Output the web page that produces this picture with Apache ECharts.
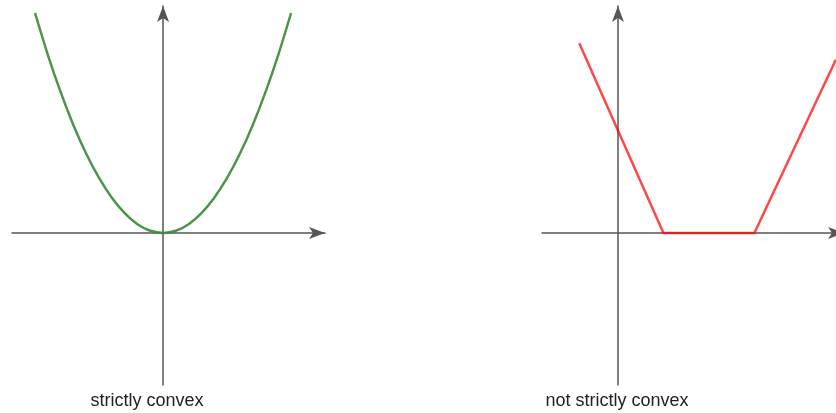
<!DOCTYPE html>
<html>
<head>
<meta charset="utf-8">
<script src="https://cdn.jsdelivr.net/npm/echarts@6/dist/echarts.min.js"></script>
<style>html,body{margin:0;padding:0;background:#fff}#c{width:836px;height:413px}</style>
</head>
<body>
<div id="c"></div>
<script>
// Left panel: strictly convex (parabola), sample points
const convexX = [-2, -1.8, -1.6, -1.4, -1.2, -1, -0.8, -0.6, -0.4, -0.2, 0,
                 0.2, 0.4, 0.6, 0.8, 1, 1.2, 1.4, 1.6, 1.8, 2];
const convexY = [4, 3.24, 2.56, 1.96, 1.44, 1, 0.64, 0.36, 0.16, 0.04, 0,
                 0.04, 0.16, 0.36, 0.64, 1, 1.44, 1.96, 2.56, 3.24, 4];
// Right panel: not strictly convex (piecewise linear with flat part)
const flatX = [-0.85, 1, 3, 4.79];
const flatY = [3.45, 0, 0, 3.15];
const titles = ['strictly convex', 'not strictly convex'];

const zip = (xs, ys) => xs.map((x, i) => [x, ys[i]]);
const axisLine = {
  onZero: true,
  symbol: ['none', 'arrow'],
  symbolSize: [9, 16],
  lineStyle: { color: '#555', width: 1.5 }
};
const hidden = { axisLabel: { show: false }, axisTick: { show: false }, splitLine: { show: false } };
const tStyle = { fontFamily: 'Liberation Sans, Arial, sans-serif', fontSize: 18, fontWeight: 'normal', color: '#222' };

const chart = echarts.init(document.getElementById('c'));
chart.setOption({
  animation: false,
  title: [
    { text: titles[0], left: 142, top: 387, textAlign: 'center', textStyle: tStyle },
    { text: titles[1], left: 612, top: 387, textAlign: 'center', textStyle: tStyle }
  ],
  grid: [
    { left: 12, width: 313, top: 6, height: 379, outerBoundsMode: 'none' },
    { left: 542, width: 302, top: 6, height: 379, outerBoundsMode: 'none' }
  ],
  xAxis: [
    Object.assign({ type: 'value', gridIndex: 0, min: -2.36, max: 2.53, axisLine }, hidden),
    Object.assign({ type: 'value', gridIndex: 1, min: -1.67, max: 4.97, axisLine }, hidden)
  ],
  yAxis: [
    Object.assign({ type: 'value', gridIndex: 0, min: -2.764, max: 4.127, axisLine }, hidden),
    Object.assign({ type: 'value', gridIndex: 1, min: -2.764, max: 4.127, axisLine }, hidden)
  ],
  series: [
    { type: 'line', xAxisIndex: 0, yAxisIndex: 0, data: zip(convexX, convexY), smooth: 0.3,
      showSymbol: false, clip: false, lineStyle: { color: '#3f8a3c', width: 2.5, opacity: 0.92 } },
    { type: 'line', xAxisIndex: 1, yAxisIndex: 1, data: zip(flatX, flatY),
      showSymbol: false, clip: false, lineStyle: { color: '#ff0000', width: 2.5, opacity: 0.72 } }
  ]
});
</script>
</body>
</html>
